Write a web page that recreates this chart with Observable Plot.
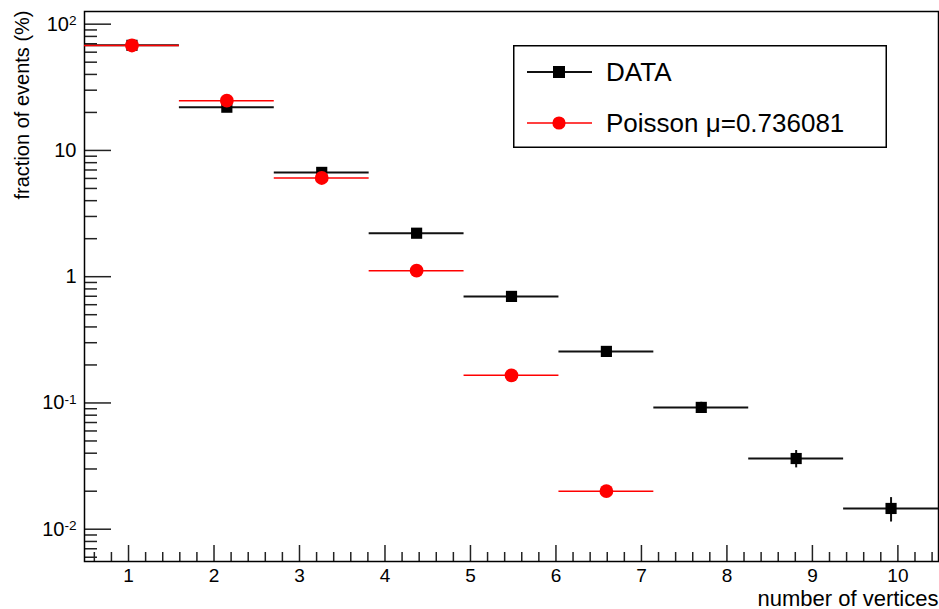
<!DOCTYPE html>
<html>
<head>
<meta charset="utf-8">
<script src="https://cdn.jsdelivr.net/npm/d3@7"></script>
<script src="https://cdn.jsdelivr.net/npm/@observablehq/plot@0.6"></script>
<style>
  html, body { margin: 0; padding: 0; background: #fff; }
  #wrap { position: relative; width: 939px; height: 609px; font-family: "Liberation Sans", Arial, Helvetica, sans-serif; }
  #legend { position: absolute; left: 513px; top: 45px; }
</style>
</head>
<body>
<div id="wrap"></div>
<script>
// ---- data ----
const binCenters    = [1.04, 2.15, 3.26, 4.37, 5.48, 6.59, 7.70, 8.81, 9.92];
const binWidth      = 1.11;
const dataValues    = [68.0, 22.0, 6.70, 2.21, 0.698, 0.256, 0.0922, 0.0363, 0.0146];
const dataErrors    = [0.3, 0.2, 0.1, 0.05, 0.03, 0.015, 0.009, 0.0057, 0.0032];
const poissonValues = [67.8, 24.8, 6.05, 1.116, 0.1656, 0.0200];
const xTicks        = [1, 2, 3, 4, 5, 6, 7, 8, 9, 10];
const yTicks        = [0.01, 0.1, 1, 10, 100];
const yTickLabels   = ["10^-2", "10^-1", "1", "10", "10^2"];
const xTitle        = "number of vertices";
const yTitle        = "fraction of events (%)";
const legendLabels  = ["DATA", "Poisson \u03bc=0.736081"];

// ---- tables ----
const dataRows = binCenters.map((c, i) => ({x: c, lo: c - binWidth / 2, hi: c + binWidth / 2, y: dataValues[i], e: dataErrors[i]}));
const poissonRows = poissonValues.map((v, i) => ({x: binCenters[i], lo: binCenters[i] - binWidth / 2, hi: binCenters[i] + binWidth / 2, y: v}));

const xDomain = [0.485, 10.475];
const yDomain = [0.00555, 126];

// minor ticks
const xMinor = [];
for (let v = 0.6; v < 10.48; v += 0.2) {
  const r = Math.round(v * 10) / 10;
  if (Math.abs(r - Math.round(r)) > 1e-6) xMinor.push(r);
}
const yMinor = [];
for (let d = -3; d <= 2; d++) for (let k = 2; k <= 9; k++) {
  const v = k * Math.pow(10, d);
  if (v >= yDomain[0] && v <= yDomain[1]) yMinor.push(v);
}

const W = 939, H = 609, mL = 84, mR = 1, mT = 11, mB = 48;
const fw = W - mL - mR, fh = H - mT - mB;
const axisColor = "#222";

const chart = Plot.plot({
  width: W, height: H,
  marginLeft: mL, marginRight: mR, marginTop: mT, marginBottom: mB,
  style: {fontFamily: "Liberation Sans, Arial, Helvetica, sans-serif", fontSize: "20px", color: "#000", background: "#fff", overflow: "visible"},
  x: {domain: xDomain, label: null},
  y: {type: "log", domain: yDomain, label: null},
  marks: [
    Plot.tickY(yMinor, {y: d => d, insetRight: fw - 13, stroke: axisColor, strokeWidth: 1.5}),
    Plot.tickY(yTicks, {y: d => d, insetRight: fw - 27, stroke: axisColor, strokeWidth: 1.5}),
    Plot.tickX(xMinor, {x: d => d, insetTop: fh - 9, stroke: axisColor, strokeWidth: 1.5}),
    Plot.tickX(xTicks, {x: d => d, insetTop: fh - 16, stroke: axisColor, strokeWidth: 1.5}),
    Plot.axisY({ticks: yTicks, tickSize: 0, tickPadding: 8, label: null, tickFormat: d => yTickLabels[yTicks.indexOf(d)]}),
    Plot.axisX({ticks: xTicks, tickSize: 0, tickPadding: 7, label: null, fontSize: 19, tickFormat: d => String(d)}),
    Plot.frame({stroke: "#000", strokeWidth: 1.5}),
    // DATA
    Plot.ruleY(dataRows, {y: "y", x1: "lo", x2: "hi", stroke: "#111", strokeWidth: 2}),
    Plot.ruleX(dataRows, {x: "x", y1: d => d.y - d.e, y2: d => d.y + d.e, stroke: "#111", strokeWidth: 2}),
    Plot.dot(dataRows, {x: "x", y: "y", symbol: "square", r: 6.3, fill: "#000", stroke: "none"}),
    // Poisson
    Plot.ruleY(poissonRows, {y: "y", x1: "lo", x2: "hi", stroke: "#ff0000", strokeWidth: 1.5}),
    Plot.dot(poissonRows, {x: "x", y: "y", r: 6.9, fill: "#ff0000", stroke: "none"}),
    // titles
    Plot.text([xTitle], {text: d => d, frameAnchor: "bottom-right", dy: 44, textAnchor: "end", fontSize: 22, fill: "#000"}),
    Plot.text([yTitle], {text: d => d, frameAnchor: "top-left", rotate: -90, textAnchor: "end", dx: -70, dy: -1, fontSize: 20, fill: "#000"})
  ]
});

// superscript exponents in y tick labels
d3.select(chart).selectAll('g[aria-label="y-axis tick label"] text').each(function() {
  const t = this.textContent;
  if (t.includes("^")) {
    const [base, exp] = t.split("^");
    const sel = d3.select(this);
    sel.text(base);
    sel.append("tspan").attr("dy", "-0.42em").attr("font-size", "0.68em").text(exp);
  }
});

const wrap = document.getElementById("wrap");
wrap.appendChild(chart);

// legend box
const lw = 374, lh = 103;
const leg = d3.select(wrap).append("svg").attr("id", "legend").attr("width", lw).attr("height", lh)
  .style("font-family", "Liberation Sans, Arial, Helvetica, sans-serif");
leg.append("rect").attr("x", 0.75).attr("y", 0.75).attr("width", lw - 1.5).attr("height", lh - 1.5)
  .attr("fill", "#fff").attr("stroke", "#000").attr("stroke-width", 1.5);
const rows = [
  {label: legendLabels[0], color: "#111", fill: "#000", shape: "square", cy: 27, sw: 2},
  {label: legendLabels[1], color: "#ff0000", fill: "#ff0000", shape: "circle", cy: 78, sw: 1.5}
];
rows.forEach(r => {
  leg.append("line").attr("x1", 14).attr("x2", 79).attr("y1", r.cy).attr("y2", r.cy).attr("stroke", r.color).attr("stroke-width", r.sw);
  if (r.shape === "square") {
    leg.append("rect").attr("x", 46 - 6).attr("y", r.cy - 6).attr("width", 12).attr("height", 12).attr("fill", r.fill);
  } else {
    leg.append("circle").attr("cx", 46).attr("cy", r.cy).attr("r", 6.6).attr("fill", r.fill);
  }
  leg.append("text").attr("x", 93).attr("y", r.cy).attr("dy", "0.35em").attr("font-size", 26).attr("fill", "#000").text(r.label);
});
</script>
</body>
</html>
